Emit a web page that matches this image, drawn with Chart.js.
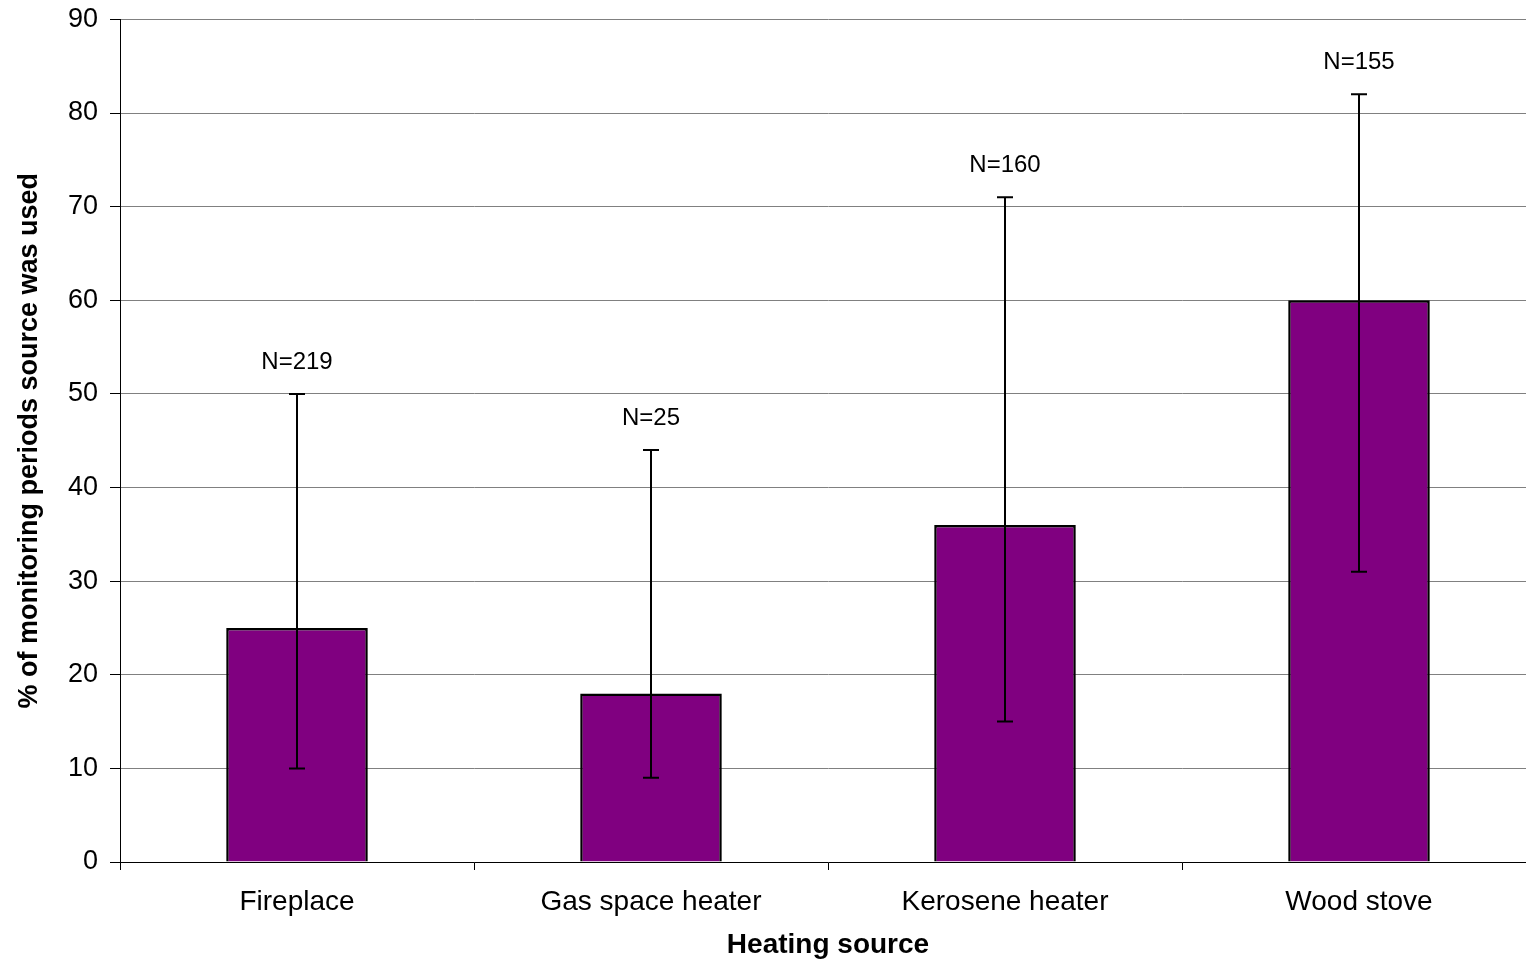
<!DOCTYPE html>
<html lang="en">
<head>
  <meta charset="UTF-8" />
  <title>Heating source use</title>
  <script src="https://cdn.jsdelivr.net/npm/chart.js"></script>
  <style>
    html, body { margin: 0; padding: 0; background: #fff; overflow: hidden; }
    canvas { display: block; }
  </style>
</head>
<body>
  <canvas id="chart" width="1546" height="962"></canvas>

  <script>
    const categories = ["Fireplace", "Gas space heater", "Kerosene heater", "Wood stove"];
    const values = [25, 18, 36, 60];
    const errLow = [10, 9, 15, 31];
    const errHigh = [50, 44, 71, 82];
    const nLabels = ["N=219", "N=25", "N=160", "N=155"];

    const FONT = "'Liberation Sans', Arial, sans-serif";

    // error bars + N labels, drawn from the scales
    const errorBars = {
      id: "errorBars",
      afterDatasetsDraw(chart) {
        const ctx = chart.ctx;
        const x = chart.scales.x;
        const y = chart.scales.y;
        ctx.save();
        ctx.strokeStyle = "#000";
        ctx.lineWidth = 2;
        categories.forEach((c, i) => {
          const cx = x.getPixelForValue(i);
          const yl = y.getPixelForValue(errLow[i]);
          const yh = y.getPixelForValue(errHigh[i]);
          ctx.beginPath();
          ctx.moveTo(cx, yl); ctx.lineTo(cx, yh);
          ctx.moveTo(cx - 8, yl); ctx.lineTo(cx + 8, yl);
          ctx.moveTo(cx - 8, yh); ctx.lineTo(cx + 8, yh);
          ctx.stroke();
          ctx.fillStyle = "#000";
          ctx.font = "24px " + FONT;
          ctx.textAlign = "center";
          ctx.textBaseline = "middle";
          ctx.fillText(nLabels[i], cx, yh - 32);
        });
        ctx.restore();
      }
    };

    new Chart(document.getElementById("chart"), {
      type: "bar",
      data: {
        labels: categories,
        datasets: [{
          data: values,
          backgroundColor: "#800080",
          borderColor: "#000",
          borderWidth: 2.5,
          barPercentage: 0.4,
          categoryPercentage: 1.0
        }]
      },
      options: {
        responsive: false,
        animation: false,
        layout: { padding: { left: 0, top: 0, right: 10, bottom: 0 } },
        plugins: {
          legend: { display: false },
          tooltip: { enabled: false }
        },
        scales: {
          x: {
            afterFit: (s) => { s.height = 100; },
            grid: {
              offset: true,
              drawOnChartArea: false,
              tickLength: 8,
              color: "#000"
            },
            border: { color: "#000", width: 1 },
            ticks: {
              color: "#000",
              padding: 15,
              font: { family: FONT, size: 28 }
            },
            title: {
              display: true,
              text: "Heating source",
              color: "#000",
              padding: { top: 0, bottom: 0 },
              font: { family: FONT, size: 28, weight: "bold" }
            }
          },
          y: {
            min: 0,
            max: 90,
            afterFit: (s) => { s.width = 120; },
            grid: {
              color: "#808080",
              tickColor: "#000",
              tickLength: 10
            },
            border: { color: "#000", width: 1 },
            ticks: {
              stepSize: 10,
              color: "#000",
              padding: 12,
              font: { family: FONT, size: 27, lineHeight: 0.55 }
            },
            title: {
              display: true,
              text: "% of monitoring periods source was used",
              color: "#000",
              padding: { top: 13, bottom: 0 },
              font: { family: FONT, size: 27, weight: "bold" }
            }
          }
        }
      },
      plugins: [errorBars]
    });
  </script>
</body>
</html>
